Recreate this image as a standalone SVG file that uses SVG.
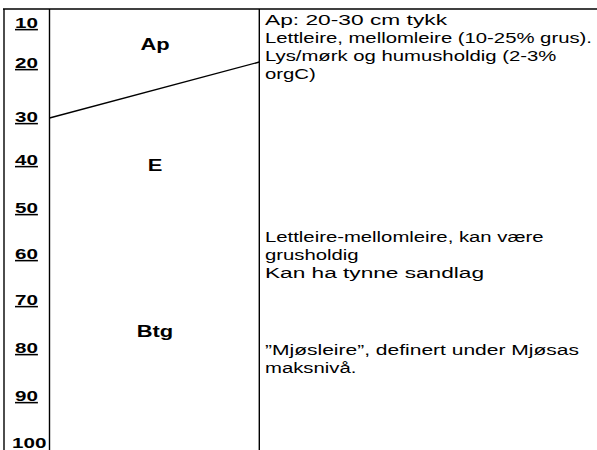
<svg xmlns="http://www.w3.org/2000/svg" width="597" height="450" viewBox="0 0 597 450">
<style>
.ln{stroke:#000;stroke-width:1.4;fill:none}
.t{font-family:"Liberation Sans",Arial,sans-serif;font-size:15.5px;fill:#000}
.d{font-family:"Liberation Sans",Arial,sans-serif;font-size:15.5px;font-weight:bold;fill:#000}
.u{text-decoration:underline}
.h{font-family:"Liberation Sans",Arial,sans-serif;font-size:16.5px;font-weight:bold;fill:#000;text-anchor:middle}
</style>
<rect width="597" height="450" fill="#fff"/>
<g id="frame">
<line class="ln" x1="3" y1="9" x2="597" y2="9"/>
<line class="ln" x1="4" y1="9" x2="4" y2="450"/>
<line class="ln" x1="49.5" y1="9" x2="49.5" y2="450"/>
<line class="ln" x1="259.3" y1="9" x2="259.3" y2="450"/>
</g>
<g id="connectors">
<line class="ln" x1="49.5" y1="118" x2="259.3" y2="62" stroke-width="1"/>
</g>
<g id="depth">
<text class="d u" transform="matrix(1.33 0 0 1 15 28)">10</text>
<text class="d u" transform="matrix(1.33 0 0 1 15 68)">20</text>
<text class="d u" transform="matrix(1.33 0 0 1 15 122)">30</text>
<text class="d u" transform="matrix(1.33 0 0 1 15 165)">40</text>
<text class="d u" transform="matrix(1.33 0 0 1 15 213)">50</text>
<text class="d u" transform="matrix(1.33 0 0 1 15 259)">60</text>
<text class="d u" transform="matrix(1.33 0 0 1 15 305)">70</text>
<text class="d u" transform="matrix(1.33 0 0 1 15 353)">80</text>
<text class="d u" transform="matrix(1.33 0 0 1 15 401)">90</text>
<text class="d" transform="matrix(1.33 0 0 1 12 448)">100</text>
</g>
<g id="horizon-Ap">
<text class="h" transform="matrix(1.33 0 0 1 155 50)">Ap</text>
</g>
<g id="horizon-E">
<text class="h" transform="matrix(1.33 0 0 1 155 170.5)">E</text>
</g>
<g id="horizon-Btg">
<text class="h" transform="matrix(1.33 0 0 1 155 336.5)">Btg</text>
</g>
<g id="desc-Ap">
<text class="t" x="265" y="25" textLength="182" lengthAdjust="spacingAndGlyphs">Ap: 20-30 cm tykk</text>
<text class="t" transform="matrix(1.31 0 0 1 265 43)">Lettleire, mellomleire (10-25% grus).</text>
<text class="t" transform="matrix(1.31 0 0 1 265 61)">Lys/mørk og humusholdig (2-3%</text>
<text class="t" transform="matrix(1.31 0 0 1 265 79)">orgC)</text>
</g>
<g id="desc-Btg">
<text class="t" transform="matrix(1.31 0 0 1 265 242)">Lettleire-mellomleire, kan være</text>
<text class="t" transform="matrix(1.31 0 0 1 265 260)">grusholdig</text>
<text class="t" x="265" y="278" textLength="219" lengthAdjust="spacingAndGlyphs">Kan ha tynne sandlag</text>
<text class="t" x="265" y="355" textLength="314" lengthAdjust="spacingAndGlyphs">”Mjøsleire”, definert under Mjøsas</text>
<text class="t" transform="matrix(1.31 0 0 1 265 373)">maksnivå.</text>
</g>
</svg>
